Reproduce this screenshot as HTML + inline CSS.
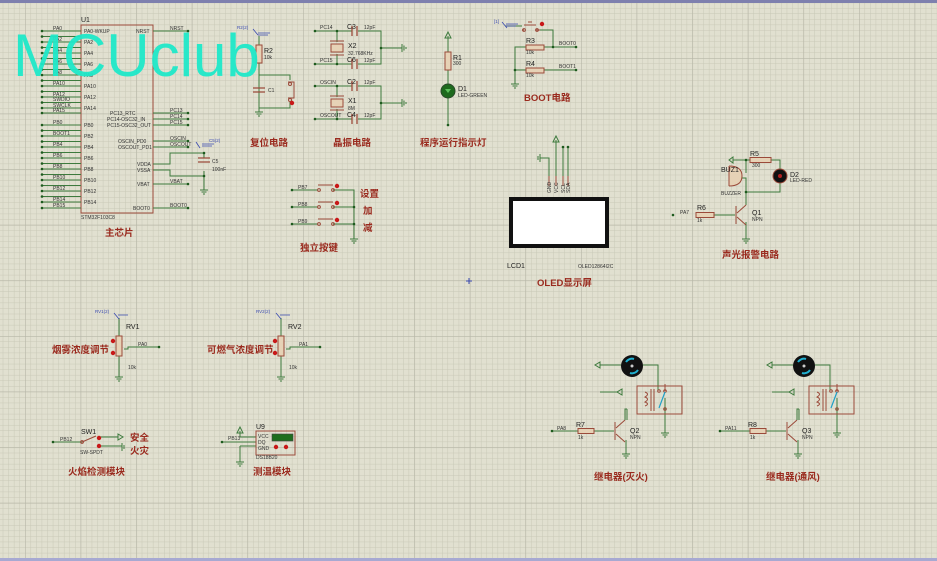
<!DOCTYPE html>
<html><head><meta charset="utf-8"><style>
html,body{margin:0;padding:0;background:#e1e0d0;}
svg{display:block}
text{font-family:"Liberation Sans","Noto Sans CJK SC",sans-serif}
.s{font-size:5px;fill:#333}
.l{font-size:7px;fill:#222}
.t{font-size:9.5px;fill:#9a2a1e;font-weight:bold}
.w{stroke:#3d7a3d;stroke-width:1;fill:none}
.b{stroke:#9b4a3a;stroke-width:1;fill:none}
.r{stroke:#9b4a3a;stroke-width:1;fill:#e6d2b6}
.d{fill:#1d5a1d}
.rd{fill:#c81818}
</style></head><body>
<svg width="937" height="561" viewBox="0 0 937 561" xmlns="http://www.w3.org/2000/svg">
<defs>
<pattern id="mn" width="5.56" height="5.56" patternUnits="userSpaceOnUse" x="25" y="2.4">
<path d="M0 0H5.56M0 0V5.56" stroke="#c8c8b6" stroke-width="1" fill="none"/></pattern>
<pattern id="mj" width="55.6" height="55.6" patternUnits="userSpaceOnUse" x="25" y="2.4">
<path d="M0 0H55.6M0 0V55.6" stroke="#b6b6a7" stroke-width="1.2" fill="none"/></pattern>
<g id="gnd"><path d="M0 0V4M-4 4H4M-2.5 6H2.5M-1 8H1" stroke="#3d7a3d" stroke-width="1" fill="none"/></g>
<g id="gndr"><path d="M0 0H4M4 -4V4M6 -2.5V2.5M8 -1V1" stroke="#3d7a3d" stroke-width="1" fill="none"/></g>
</defs>
<rect width="937" height="561" fill="#e1e0d0"/>
<rect width="937" height="561" fill="url(#mn)"/>
<rect width="937" height="561" fill="url(#mj)"/>
<rect x="0" y="0" width="937" height="3" fill="#7e80ae"/>
<rect x="0" y="558" width="937" height="3" fill="#a7a9d2"/>

<!-- U1 -->
<rect x="81" y="25" width="72" height="188" class="b"/>
<text x="81" y="22" class="l">U1</text>
<text x="81" y="219" class="s">STM32F103C8</text>
<g class="w">
<path d="M42 31H81M42 36.5H81M42 42H81M42 47.5H81M42 53H81M42 58.5H81M42 64H81M42 69.5H81M42 75H81M42 80.5H81M42 86H81M42 91.5H81M42 97H81M42 102.5H81M42 108H81M42 113H81"/>
<path d="M42 125H81M42 130.5H81M42 136H81M42 141.5H81M42 147H81M42 152.5H81M42 158H81M42 163.5H81M42 169H81M42 174.5H81M42 180H81M42 185.5H81M42 191H81M42 196.5H81M42 202H81M42 208H81"/>
<path d="M153 31H188M153 113H188M153 119H188M153 125H188M153 141H188M153 147H188M153 184H188M153 208H188"/>
<path d="M153 164H170V153H204V158M153 170H170V176H204V171"/>
<path d="M204 176V186"/>
</g>
<g class="d">
<circle cx="42" cy="31" r="1.3"/><circle cx="42" cy="36.5" r="1.3"/><circle cx="42" cy="42" r="1.3"/><circle cx="42" cy="47.5" r="1.3"/><circle cx="42" cy="53" r="1.3"/><circle cx="42" cy="58.5" r="1.3"/><circle cx="42" cy="64" r="1.3"/><circle cx="42" cy="69.5" r="1.3"/><circle cx="42" cy="75" r="1.3"/><circle cx="42" cy="80.5" r="1.3"/><circle cx="42" cy="86" r="1.3"/><circle cx="42" cy="91.5" r="1.3"/><circle cx="42" cy="97" r="1.3"/><circle cx="42" cy="102.5" r="1.3"/><circle cx="42" cy="108" r="1.3"/><circle cx="42" cy="113" r="1.3"/>
<circle cx="42" cy="125" r="1.3"/><circle cx="42" cy="130.5" r="1.3"/><circle cx="42" cy="136" r="1.3"/><circle cx="42" cy="141.5" r="1.3"/><circle cx="42" cy="147" r="1.3"/><circle cx="42" cy="152.5" r="1.3"/><circle cx="42" cy="158" r="1.3"/><circle cx="42" cy="163.5" r="1.3"/><circle cx="42" cy="169" r="1.3"/><circle cx="42" cy="174.5" r="1.3"/><circle cx="42" cy="180" r="1.3"/><circle cx="42" cy="185.5" r="1.3"/><circle cx="42" cy="191" r="1.3"/><circle cx="42" cy="196.5" r="1.3"/><circle cx="42" cy="202" r="1.3"/><circle cx="42" cy="208" r="1.3"/>
<circle cx="188" cy="31" r="1.3"/><circle cx="188" cy="113" r="1.3"/><circle cx="188" cy="119" r="1.3"/><circle cx="188" cy="125" r="1.3"/><circle cx="188" cy="141" r="1.3"/><circle cx="188" cy="147" r="1.3"/><circle cx="188" cy="184" r="1.3"/><circle cx="188" cy="208" r="1.3"/><circle cx="204" cy="153" r="1.3"/><circle cx="204" cy="176" r="1.3"/>
</g>
<g class="s" font-size="4.5">
<text x="53" y="30">PA0</text><text x="53" y="41">PA2</text><text x="53" y="52">PA4</text><text x="53" y="63">PA6</text><text x="53" y="74">PA8</text><text x="53" y="85">PA10</text><text x="53" y="96">PA12</text><text x="53" y="101">SWDIO</text><text x="53" y="107">SWCLK</text><text x="53" y="112">PA15</text>
<text x="53" y="124">PB0</text><text x="53" y="135">BOOT1</text><text x="53" y="146">PB4</text><text x="53" y="157">PB6</text><text x="53" y="168">PB8</text><text x="53" y="179">PB10</text><text x="53" y="190">PB12</text><text x="53" y="201">PB14</text><text x="53" y="207">PB15</text>
<text x="84" y="33">PA0-WKUP</text><text x="84" y="44">PA2</text><text x="84" y="55">PA4</text><text x="84" y="66">PA6</text><text x="84" y="77">PA8</text><text x="84" y="88">PA10</text><text x="84" y="99">PA12</text><text x="84" y="110">PA14</text>
<text x="84" y="127">PB0</text><text x="84" y="138">PB2</text><text x="84" y="149">PB4</text><text x="84" y="160">PB6</text><text x="84" y="171">PB8</text><text x="84" y="182">PB10</text><text x="84" y="193">PB12</text><text x="84" y="204">PB14</text>
<text x="136" y="33">NRST</text><text x="110" y="115">PC13_RTC</text><text x="107" y="121">PC14-OSC32_IN</text><text x="107" y="127">PC15-OSC32_OUT</text>
<text x="118" y="143">OSCIN_PD0</text><text x="118" y="149">OSCOUT_PD1</text><text x="137" y="166">VDDA</text><text x="137" y="172">VSSA</text><text x="137" y="186">VBAT</text><text x="133" y="210">BOOT0</text>
<text x="170" y="30">NRST</text><text x="170" y="112">PC13</text><text x="170" y="118">PC14</text><text x="170" y="124">PC15</text><text x="170" y="140">OSCIN</text><text x="170" y="146">OSCOUT</text><text x="170" y="183">VBAT</text><text x="170" y="207">BOOT0</text>
<text x="212" y="163">C5</text><text x="212" y="171">100nF</text>
</g>
<path d="M198 158H210M198 162H210" stroke="#9b4a3a" stroke-width="1.3"/>
<use href="#gnd" x="204" y="186"/>
<path d="M196 142l4 6M202 144h12M202 146h10" stroke="#3a4ab0" stroke-width="0.8" fill="none"/>
<text x="209" y="142" font-size="4.5" fill="#3a4ab0">C5(2)</text>
<text x="105" y="236" class="t">主芯片</text>

<!-- Reset -->
<path d="M259 36V45M259 63V108H290V102M259 75H290V80" class="w"/>
<rect x="256" y="45" width="6" height="18" class="r"/>
<path d="M253 88H265M253 92H265" stroke="#9b4a3a" stroke-width="1.3"/>
<path d="M288 82H294V98H288" class="b"/><circle cx="290" cy="84" r="1.5" fill="none" stroke="#9b4a3a"/><circle cx="290" cy="100" r="1.5" fill="none" stroke="#9b4a3a"/>
<circle cx="292" cy="103" r="2.2" class="rd"/>
<use href="#gnd" x="259" y="108"/>
<path d="M253 29l5 6M258 33h12M258 35h10" stroke="#3a4ab0" stroke-width="0.8" fill="none"/>
<text x="237" y="29" font-size="4.5" fill="#3a4ab0">R2(2)</text>
<text x="264" y="53" class="l">R2</text><text x="264" y="59" class="s">10k</text>
<text x="268" y="92" class="s">C1</text>
<text x="250" y="146" class="t">复位电路</text>

<!-- Crystal -->
<g class="w">
<path d="M315 31H352M358 31H381V64H358M352 64H315M337 31V42M337 54V64M381 48H398"/>
<path d="M315 86H352M358 86H381V119H358M352 119H315M337 86V97M337 109V119M381 103H398"/>
</g>
<g stroke="#9b4a3a" stroke-width="1.3"><path d="M352 26V36M357 26V36M352 59V69M357 59V69M352 81V91M357 81V91M352 114V124M357 114V124"/></g>
<rect x="331" y="44" width="12" height="8" class="r"/><path d="M330 41H344M330 55H344" class="b"/>
<rect x="331" y="99" width="12" height="8" class="r"/><path d="M330 96H344M330 110H344" class="b"/>
<use href="#gndr" x="398" y="48"/><use href="#gndr" x="398" y="103"/>
<g class="d"><circle cx="315" cy="31" r="1.3"/><circle cx="315" cy="64" r="1.3"/><circle cx="315" cy="86" r="1.3"/><circle cx="315" cy="119" r="1.3"/><circle cx="337" cy="31" r="1.3"/><circle cx="337" cy="64" r="1.3"/><circle cx="381" cy="48" r="1.3"/><circle cx="337" cy="86" r="1.3"/><circle cx="337" cy="119" r="1.3"/><circle cx="381" cy="103" r="1.3"/></g>
<g class="s" font-size="4.5"><text x="320" y="29">PC14</text><text x="320" y="62">PC15</text><text x="320" y="84">OSCIN</text><text x="320" y="117">OSCOUT</text>
<text x="364" y="29">12pF</text><text x="364" y="62">12pF</text><text x="364" y="84">12pF</text><text x="364" y="117">12pF</text>
<text x="348" y="55">32.768KHz</text><text x="348" y="110">8M</text></g>
<g class="l"><text x="347" y="29">C3</text><text x="348" y="48">X2</text><text x="347" y="62">C6</text><text x="347" y="84">C2</text><text x="348" y="103">X1</text><text x="347" y="117">C4</text></g>
<text x="333" y="146" class="t">晶振电路</text>

<!-- LED -->
<path d="M448 36V52M448 70V125" class="w"/><path d="M445 38L448 32L451 38Z" fill="none" stroke="#3d7a3d"/>
<rect x="445" y="52" width="6" height="18" class="r"/>
<circle cx="448" cy="91" r="7" fill="#1d6a1d" stroke="#2a4a2a"/><path d="M445 89H451L448 93Z" fill="#5bc05b"/>
<circle cx="448" cy="125" r="1.3" class="d"/>
<text x="453" y="60" class="l">R1</text><text x="453" y="65" class="s">300</text>
<text x="458" y="91" class="l">D1</text><text x="458" y="97" class="s">LED-GREEN</text>
<text x="420" y="146" class="t">程序运行指示灯</text>

<!-- BOOT -->
<path d="M505 26H522M540 30H553V47H544M526 47H515V80M515 70H526M544 70H576M553 47H576" class="w"/>
<path d="M522 30H524M536 30H540M524 25H536M528 22H532" class="b"/>
<circle cx="524" cy="30" r="1.4" fill="none" stroke="#9b4a3a"/><circle cx="537" cy="30" r="1.4" fill="none" stroke="#9b4a3a"/>
<circle cx="542" cy="24" r="2.2" class="rd"/>
<path d="M502 22l5 6M506 24h12M506 26h10" stroke="#3a4ab0" stroke-width="0.8" fill="none"/><text x="494" y="23" font-size="4.5" fill="#3a4ab0">[1]</text>
<rect x="526" y="45" width="18" height="5" class="r"/><rect x="526" y="68" width="18" height="5" class="r"/>
<use href="#gnd" x="515" y="80"/>
<g class="d"><circle cx="576" cy="47" r="1.3"/><circle cx="576" cy="70" r="1.3"/><circle cx="553" cy="47" r="1.3"/><circle cx="515" cy="70" r="1.3"/></g>
<text x="526" y="43" class="l">R3</text><text x="526" y="54" class="s">10k</text><text x="526" y="66" class="l">R4</text><text x="526" y="77" class="s">10k</text>
<text x="559" y="45" class="s">BOOT0</text><text x="559" y="68" class="s">BOOT1</text>
<text x="524" y="101" class="t">BOOT电路</text>

<!-- Buttons -->
<path d="M292 190H318M292 207H318M292 224H318M333 190H354V235M333 207H354M333 224H354" class="w"/>
<g class="b"><path d="M318 185H333M318 202H333M318 219H333"/></g>
<g fill="none" stroke="#9b4a3a"><circle cx="319" cy="190" r="1.4"/><circle cx="333" cy="190" r="1.4"/><circle cx="319" cy="207" r="1.4"/><circle cx="333" cy="207" r="1.4"/><circle cx="319" cy="224" r="1.4"/><circle cx="333" cy="224" r="1.4"/></g>
<g class="rd"><circle cx="337" cy="186" r="2.2"/><circle cx="337" cy="203" r="2.2"/><circle cx="337" cy="220" r="2.2"/></g>
<g class="d"><circle cx="292" cy="190" r="1.3"/><circle cx="292" cy="207" r="1.3"/><circle cx="292" cy="224" r="1.3"/><circle cx="354" cy="207" r="1.3"/><circle cx="354" cy="224" r="1.3"/></g>
<use href="#gnd" x="354" y="235"/>
<g class="s" font-size="4.5"><text x="298" y="189">PB7</text><text x="298" y="206">PB8</text><text x="298" y="223">PB9</text></g>
<text x="360" y="197" class="t">设置</text><text x="363" y="214" class="t">加</text><text x="363" y="231" class="t">减</text>
<text x="300" y="251" class="t">独立按键</text>

<!-- OLED -->
<path d="M549 176V158H540M556 176V140M563 176V148M568 176V148" class="w"/>
<path d="M553 142L556 136L559 142Z" fill="none" stroke="#3d7a3d"/>
<path d="M540 154V162M538 156V160" stroke="#3d7a3d"/>
<circle cx="563" cy="147" r="1.3" class="d"/><circle cx="568" cy="147" r="1.3" class="d"/>
<path d="M549 176V186M556 176V186M563 176V186M568 176V186" class="b"/>
<g class="s" font-size="4"><text transform="translate(551,193) rotate(-90)">GND</text><text transform="translate(558,193) rotate(-90)">VCC</text><text transform="translate(565,193) rotate(-90)">SCL</text><text transform="translate(570,193) rotate(-90)">SDA</text></g>
<rect x="511" y="199" width="96" height="47" fill="#fff" stroke="#111" stroke-width="4"/>
<text x="507" y="268" class="l">LCD1</text><text x="578" y="268" class="s" font-size="4.5">OLED12864I2C</text>
<text x="537" y="286" class="t">OLED显示屏</text>
<path d="M466 281H472M469 278V284" stroke="#3a4ab0"/>

<!-- Alarm -->
<path d="M733 160H771M771 160H780V170M746 160V173M742 178H746V192M746 192V205M746 192H780V183M714 215H735M746 222V235" class="w"/>
<path d="M733 157V163l-4-3z" fill="none" stroke="#3d7a3d"/>
<rect x="750" y="157.5" width="21" height="5" class="r"/>
<circle cx="780" cy="176" r="7" fill="#111" stroke="#9b4a3a"/><circle cx="780" cy="176" r="2" fill="#b02020"/>
<path d="M729 166V186M729 166Q742 166 742 176Q742 186 729 186" class="r"/>
<path d="M736 206V224M737 213L746 205M737 217L746 225" class="b" stroke-width="1.3"/>
<rect x="696" y="212.5" width="18" height="5" class="r"/>
<circle cx="673" cy="215" r="1.3" class="d"/><circle cx="746" cy="160" r="1.3" class="d"/><circle cx="746" cy="192" r="1.3" class="d"/>
<use href="#gnd" x="746" y="235"/>
<text x="750" y="156" class="l">R5</text><text x="752" y="167" class="s">300</text><text x="790" y="177" class="l">D2</text><text x="790" y="182" class="s">LED-RED</text>
<text x="721" y="172" class="l">BUZ1</text><text x="721" y="195" class="s">BUZZER</text>
<text x="697" y="210" class="l">R6</text><text x="697" y="222" class="s">1k</text><text x="680" y="214" class="s">PA7</text>
<text x="752" y="215" class="l">Q1</text><text x="752" y="221" class="s">NPN</text>
<text x="722" y="258" class="t">声光报警电路</text>

<!-- RV1 / RV2 -->
<g class="w"><path d="M119 318V336M119 356V373M124 349H128V347H159M281 318V336M281 356V373M286 349H290V347H320"/></g>
<rect x="116" y="336" width="6" height="20" class="r"/><rect x="278" y="336" width="6" height="20" class="r"/>
<g class="rd"><circle cx="113" cy="341" r="2.2"/><circle cx="113" cy="353" r="2.2"/><circle cx="275" cy="341" r="2.2"/><circle cx="275" cy="353" r="2.2"/></g>
<circle cx="159" cy="347" r="1.3" class="d"/><circle cx="320" cy="347" r="1.3" class="d"/>
<use href="#gnd" x="119" y="373"/><use href="#gnd" x="281" y="373"/>
<path d="M114 313l5 6M118 315h10M276 313l5 6M280 315h10" stroke="#3a4ab0" stroke-width="0.8" fill="none"/>
<text x="95" y="313" font-size="4.5" fill="#3a4ab0">RV1(2)</text><text x="256" y="313" font-size="4.5" fill="#3a4ab0">RV2(2)</text>
<text x="126" y="329" class="l">RV1</text><text x="288" y="329" class="l">RV2</text>
<text x="138" y="346" class="s">PA0</text><text x="299" y="346" class="s">PA1</text>
<text x="128" y="369" class="s">10k</text><text x="289" y="369" class="s">10k</text>
<text x="52" y="353" class="t">烟雾浓度调节</text><text x="207" y="353" class="t">可燃气浓度调节</text>

<!-- SW1 -->
<path d="M53 442H82M98 437H118M98 446H122V448" class="w"/>
<path d="M82 442L96 436" class="b"/><circle cx="82" cy="442" r="1.4" fill="none" stroke="#9b4a3a"/>
<path d="M118 434V440L123 437Z" fill="none" stroke="#3d7a3d"/>
<path d="M122 443V451M124 445V449" stroke="#3d7a3d"/>
<g class="rd"><circle cx="99" cy="438" r="2.2"/><circle cx="99" cy="446" r="2.2"/></g>
<circle cx="53" cy="442" r="1.3" class="d"/>
<text x="81" y="434" class="l">SW1</text><text x="60" y="441" class="s">PB12</text><text x="80" y="454" class="s">SW-SPDT</text>
<text x="130" y="441" class="t">安全</text><text x="130" y="454" class="t">火灾</text>
<text x="68" y="475" class="t">火焰检测模块</text>

<!-- U9 -->
<path d="M222 442H256M240 431V437H256M240 446H256V447M240 446V458" class="w"/>
<path d="M237 433L240 427L243 433Z" fill="none" stroke="#3d7a3d"/>
<rect x="256" y="431" width="39" height="24" class="b" fill="#e6d2b6"/>
<rect x="272" y="434" width="21" height="7" fill="#1e6e1e" stroke="#444" stroke-width="0.6"/>
<g class="rd"><circle cx="276" cy="447" r="2.2"/><circle cx="286" cy="447" r="2.2"/></g>
<circle cx="222" cy="442" r="1.3" class="d"/>
<use href="#gnd" x="240" y="458"/>
<text x="256" y="429" class="l">U9</text><text x="228" y="440" class="s">PB13</text>
<g class="s" font-size="4"><text x="258" y="438">VCC</text><text x="258" y="444">DQ</text><text x="258" y="450">GND</text><text x="256" y="459">DS18B20</text></g>
<text x="253" y="475" class="t">测温模块</text>

<!-- Relay 1 -->
<g>
<path d="M600 365H621M643 365H658V390M627 409V420M626 440V453M665 398V431M600 392H618" class="w"/>
<path d="M600 362V368L595 365Z" fill="none" stroke="#3d7a3d"/><path d="M622 389V395L617 392Z" fill="none" stroke="#3d7a3d"/>
<circle cx="632" cy="366" r="11" fill="#111"/>
<path d="M626 362A7 7 0 0 1 634 359M638 370A7 7 0 0 1 630 373" stroke="#20b0d0" stroke-width="2" fill="none"/>
<circle cx="632" cy="366" r="1.5" fill="#ccc"/>
<rect x="637" y="386" width="45" height="28" class="b"/>
<path d="M645 392Q650 394 645 397Q650 399 645 402Q650 404 645 406" class="b"/>
<path d="M651 389V411M654 389V411" class="b"/>
<circle cx="659" cy="391" r="1.3" fill="none" stroke="#9b4a3a"/><circle cx="665" cy="391" r="1.3" fill="none" stroke="#9b4a3a"/><circle cx="665" cy="409" r="1.3" fill="none" stroke="#9b4a3a"/>
<path d="M665 392L659 408" stroke="#20a0c8" stroke-width="1.2"/>
<path d="M665 384V391" class="b"/>
<path d="M552 431H578M594 431H614" class="w"/>
<rect x="578" y="428.5" width="16" height="5" class="r"/>
<path d="M615 422V440M616 428L625 420M616 434L625 442" class="b" stroke-width="1.3"/>
<path d="M625 420V409H627" class="w"/>
<circle cx="552" cy="431" r="1.3" class="d"/>
<use href="#gnd" x="626" y="450"/><use href="#gnd" x="665" y="429"/>
<text x="576" y="427" class="l">R7</text><text x="578" y="439" class="s">1k</text><text x="557" y="430" class="s">PA8</text>
<text x="630" y="433" class="l">Q2</text><text x="630" y="439" class="s">NPN</text>
</g>
<text x="594" y="480" class="t">继电器(灭火)</text>
<g transform="translate(172,0)">
<path d="M600 365H621M643 365H658V390M627 409V420M626 440V453M665 398V431M600 392H618" class="w"/>
<path d="M600 362V368L595 365Z" fill="none" stroke="#3d7a3d"/><path d="M622 389V395L617 392Z" fill="none" stroke="#3d7a3d"/>
<circle cx="632" cy="366" r="11" fill="#111"/>
<path d="M626 362A7 7 0 0 1 634 359M638 370A7 7 0 0 1 630 373" stroke="#20b0d0" stroke-width="2" fill="none"/>
<circle cx="632" cy="366" r="1.5" fill="#ccc"/>
<rect x="637" y="386" width="45" height="28" class="b"/>
<path d="M645 392Q650 394 645 397Q650 399 645 402Q650 404 645 406" class="b"/>
<path d="M651 389V411M654 389V411" class="b"/>
<circle cx="659" cy="391" r="1.3" fill="none" stroke="#9b4a3a"/><circle cx="665" cy="391" r="1.3" fill="none" stroke="#9b4a3a"/><circle cx="665" cy="409" r="1.3" fill="none" stroke="#9b4a3a"/>
<path d="M665 392L659 408" stroke="#20a0c8" stroke-width="1.2"/>
<path d="M665 384V391" class="b"/>
<path d="M548 431H578M594 431H614" class="w"/>
<rect x="578" y="428.5" width="16" height="5" class="r"/>
<path d="M615 422V440M616 428L625 420M616 434L625 442" class="b" stroke-width="1.3"/>
<path d="M625 420V409H627" class="w"/>
<circle cx="548" cy="431" r="1.3" class="d"/>
<use href="#gnd" x="626" y="450"/><use href="#gnd" x="665" y="429"/>
<text x="576" y="427" class="l">R8</text><text x="578" y="439" class="s">1k</text><text x="553" y="430" class="s">PA11</text>
<text x="630" y="433" class="l">Q3</text><text x="630" y="439" class="s">NPN</text>
</g>
<text x="766" y="480" class="t">继电器(通风)</text>

<!-- watermark -->
<text x="13" y="76" font-size="60" fill="#1de8c8" style="font-family:'Liberation Sans',sans-serif" fill-opacity="0.95">MCUclub</text>
</svg>
</body></html>
